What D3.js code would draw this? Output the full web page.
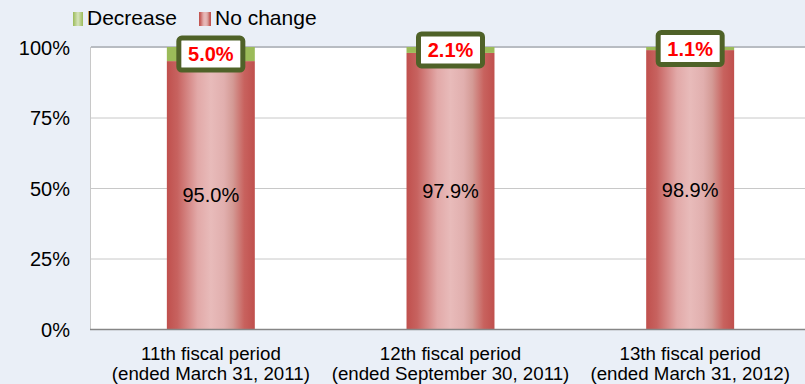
<!DOCTYPE html>
<html>
<head>
<meta charset="utf-8">
<script src="https://cdn.jsdelivr.net/npm/d3@7/dist/d3.min.js"></script>
<style>
  html, body { margin: 0; padding: 0; background: #EAEFF7; }
  svg { display: block; font-family: Arial, "Liberation Sans", sans-serif; }
</style>
</head>
<body>
<svg id="chart" width="805" height="384"></svg>
<script>
// Share of properties by rent change, per fiscal period
const periods = ["11th fiscal period|(ended March 31, 2011)",
                 "12th fiscal period|(ended September 30, 2011)",
                 "13th fiscal period|(ended March 31, 2012)"];
const noChange = [95.0, 97.9, 98.9];
const decrease = [5.0, 2.1, 1.1];
const yTicks = [0, 25, 50, 75, 100];
const seriesNames = ["Decrease", "No change"];

const W = 805, H = 384;
const plot = { left: 91, right: 810, top: 47, bottom: 329 };

const svg = d3.select("#chart");

// gradients
const defs = svg.append("defs");
const redGrad = defs.append("linearGradient").attr("id", "redGrad")
  .attr("x1", "0%").attr("x2", "100%").attr("y1", "0%").attr("y2", "0%");
[[0, "#C0504D"], [0.12, "#C7625F"], [0.35, "#E2A9A8"], [0.5, "#E8BBBA"],
 [0.65, "#E1AFAE"], [0.75, "#D49A95"], [0.88, "#C8625E"], [1, "#C0504D"]]
  .forEach(([o, c]) => redGrad.append("stop").attr("offset", o).attr("stop-color", c));
const greenGrad = defs.append("linearGradient").attr("id", "greenGrad")
  .attr("x1", "0%").attr("x2", "100%").attr("y1", "0%").attr("y2", "0%");
[[0, "#9BBB59"], [0.5, "#D7E4BD"], [1, "#9BBB59"]]
  .forEach(([o, c]) => greenGrad.append("stop").attr("offset", o).attr("stop-color", c));

const x = d3.scaleBand().domain(periods).range([plot.left, plot.right]).paddingInner(0.633).paddingOuter(0.3165);
const y = d3.scaleLinear().domain([0, 100]).range([plot.bottom, plot.top]);

// plot background
svg.append("rect")
  .attr("x", plot.left).attr("y", plot.top)
  .attr("width", plot.right - plot.left).attr("height", plot.bottom - plot.top)
  .attr("fill", "#FFFFFF");

// grid lines
svg.append("g").selectAll("line").data(yTicks.filter(t => t > 0 && t < 100)).join("line")
  .attr("x1", plot.left).attr("x2", plot.right)
  .attr("y1", d => y(d) + 0.5).attr("y2", d => y(d) + 0.5)
  .attr("stroke", "#C8C8C8").attr("stroke-width", 1);
svg.append("line")
  .attr("x1", plot.left).attr("x2", plot.right)
  .attr("y1", y(100)).attr("y2", y(100))
  .attr("stroke", "#B8BCC2").attr("stroke-width", 2);
svg.append("line")
  .attr("x1", plot.left - 0.5).attr("x2", plot.left - 0.5)
  .attr("y1", plot.top).attr("y2", plot.bottom)
  .attr("stroke", "#C8C8C8").attr("stroke-width", 1);

// y axis
const yAxis = d3.axisLeft(y).tickValues(yTicks).tickSize(0).tickPadding(21).tickFormat(d => d + "%");
svg.append("g").attr("transform", `translate(${plot.left},0)`).call(yAxis)
  .call(g => g.select(".domain").remove())
  .selectAll("text").attr("font-size", 20).attr("fill", "#000").attr("dy", "0.35em")
  .attr("font-family", "Arial, 'Liberation Sans', sans-serif");

// bars
const rows = periods.map((p, i) => ({ p, nc: noChange[i], dec: decrease[i] }));
const bw = x.bandwidth();
const barG = svg.append("g");
barG.selectAll(".nc").data(rows).join("rect")
  .attr("x", d => x(d.p)).attr("width", bw)
  .attr("y", d => y(d.nc)).attr("height", d => y(0) - y(d.nc))
  .attr("fill", "url(#redGrad)");
barG.selectAll(".dec").data(rows).join("rect")
  .attr("x", d => x(d.p)).attr("width", bw)
  .attr("y", d => y(d.nc + d.dec)).attr("height", d => y(d.nc) - y(d.nc + d.dec))
  .attr("fill", "#9BBB59");

// x axis line
svg.append("line")
  .attr("x1", plot.left - 1).attr("x2", plot.right)
  .attr("y1", plot.bottom + 0.5).attr("y2", plot.bottom + 0.5)
  .attr("stroke", "#868686").attr("stroke-width", 1.5);

// category labels
const xAxis = d3.axisBottom(x).tickSize(0).tickFormat("");
const xg = svg.append("g").attr("transform", `translate(0,${plot.bottom})`).call(xAxis);
xg.select(".domain").remove();
xg.selectAll(".tick").each(function(d) {
  const t = d3.select(this).append("text")
    .attr("text-anchor", "middle").attr("font-size", 18.7).attr("fill", "#000")
    .attr("font-family", "Arial, 'Liberation Sans', sans-serif");
  d.split("|").forEach((line, i) => {
    t.append("tspan").attr("x", 0).attr("y", 31 + i * 20).text(line);
  });
});

// value labels for "No change"
svg.append("g").selectAll("text").data(rows).join("text")
  .attr("x", d => x(d.p) + bw / 2)
  .attr("y", d => (y(0) + y(d.nc)) / 2)
  .attr("dy", "0.35em")
  .attr("text-anchor", "middle").attr("font-size", 20).attr("fill", "#000")
  .text(d => d.nc.toFixed(1) + "%");

// boxed labels for "Decrease"
const boxW = 64, boxH = 32;
const lab = svg.append("g").selectAll("g").data(rows).join("g")
  .attr("transform", d => `translate(${x(d.p) + bw / 2},${(y(d.nc) + y(d.nc + d.dec)) / 2})`);
lab.append("rect")
  .attr("x", -boxW / 2).attr("y", -boxH / 2).attr("width", boxW).attr("height", boxH)
  .attr("rx", 3).attr("ry", 3)
  .attr("fill", "#FFFFFF").attr("stroke", "#4F6228").attr("stroke-width", 5);
lab.append("text")
  .attr("text-anchor", "middle").attr("dy", "0.35em")
  .attr("font-size", 20).attr("font-weight", "bold").attr("fill", "#FF0000")
  .text(d => d.dec.toFixed(1) + "%");

// legend
const legend = svg.append("g");
const legendItems = [
  { name: seriesNames[0], fill: "url(#greenGrad)", x: 73, w: 10 },
  { name: seriesNames[1], fill: "url(#redGrad)", x: 199, w: 12 }
];
legendItems.forEach(it => {
  legend.append("rect").attr("x", it.x).attr("y", 12).attr("width", it.w).attr("height", 14)
    .attr("fill", it.fill);
  legend.append("text").attr("x", it.x + it.w + 4).attr("y", 25)
    .attr("font-size", 21).attr("fill", "#000").text(it.name);
});
</script>
</body>
</html>
